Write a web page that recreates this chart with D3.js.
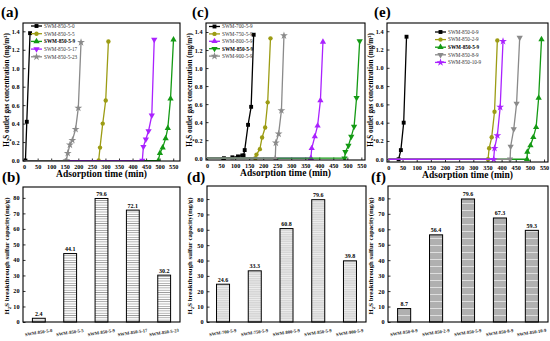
<!DOCTYPE html>
<html>
<head>
<meta charset="utf-8">
<script src="https://cdn.jsdelivr.net/npm/d3@7/dist/d3.min.js"></script>
<style>
  body { margin: 0; background: #fff; }
  svg { display: block; font-family: "Liberation Serif", "Times New Roman", serif; }
</style>
</head>
<body>
<svg id="chart" width="550" height="341"></svg>
<script>
// ---- data: breakthrough curves (time in min, H2S outlet in mg/m3) ----
const timeTicks = [0, 50, 100, 150, 200, 250, 300, 350, 400, 450, 500, 550];
const concTicks = [0, 0.2, 0.4, 0.6, 0.8, 1.0, 1.2, 1.4];
const capTicks = [0, 10, 20, 30, 40, 50, 60, 70, 80];

// (a) different S/O ratio of agent
const a850_5_0  = [[0, 0], [5, 0], [10, 0.42], [22, 1.38]];
const a850_5_5  = [[0, 0], [275, 0], [280, 0.14], [290, 0.40], [301, 0.65], [311, 1.29]];
const a850_5_9  = [[0, 0], [495, 0], [501, 0.08], [511, 0.14], [522, 0.24], [530, 0.35], [540, 0.67], [551, 1.31]];
const a850_5_17 = [[0, 0], [436, 0], [440, 0.15], [449, 0.23], [459, 0.32], [471, 0.49], [480, 1.31]];
const a850_5_23 = [[0, 0], [156, 0], [161, 0.08], [169, 0.17], [178, 0.22], [190, 0.34], [200, 0.57], [210, 1.28]];

// (c) different temperature
const c700_5_9 = [[0, 0], [60, 0], [90, 0.01], [110, 0.02], [125, 0.03], [130, 0.03], [134, 0.09], [146, 0.37], [157, 0.57], [166, 1.37]];
const c750_5_9 = [[0, 0], [172, 0], [176, 0.04], [188, 0.10], [196, 0.23], [207, 0.34], [216, 0.62], [226, 1.33]];
const c800_5_9 = [[0, 0], [370, 0], [373, 0.11], [384, 0.24], [394, 0.36], [404, 0.64], [413, 1.29]];
const c850_5_9 = [[0, 0], [490, 0], [493, 0.07], [504, 0.14], [514, 0.24], [524, 0.35], [533, 0.67], [544, 1.30]];
const c900_5_9 = [[0, 0], [243, 0], [245, 0.17], [255, 0.27], [265, 0.53], [274, 1.36]];

// (e) different loading
const e850_0_9  = [[0, 0], [36, 0], [44, 0.10], [54, 0.40], [64, 1.34]];
const e850_2_9  = [[0, 0], [352, 0], [356, 0.12], [365, 0.24], [375, 0.52], [385, 1.30]];
const e850_5_9  = [[0, 0], [490, 0], [491, 0.08], [502, 0.15], [512, 0.24], [522, 0.35], [531, 0.67], [541, 1.31]];
const e850_8_9  = [[0, 0], [430, 0], [432, 0.14], [443, 0.33], [453, 0.61], [464, 1.33]];
const e850_10_9 = [[0, 0], [372, 0], [375, 0.12], [385, 0.26], [395, 0.57], [405, 1.29]];

// ---- data: breakthrough sulfur capacity (mg/g) ----
const bCats = ["SWM-850-5-0", "SWM-850-5-5", "SWM-850-5-9", "SWM-850-5-17", "SWM-850-5-23"];
const bVals = [2.4, 44.1, 79.6, 72.1, 30.2];
const dCats = ["SWM-700-5-9", "SWM-750-5-9", "SWM-800-5-9", "SWM-850-5-9", "SWM-900-5-9"];
const dVals = [24.6, 33.3, 60.8, 79.6, 39.8];
const fCats = ["SWM-850-0-9", "SWM-850-2-9", "SWM-850-5-9", "SWM-850-8-9", "SWM-850-10-9"];
const fVals = [8.7, 56.4, 79.6, 67.3, 59.3];

const C = {
  black: "#000000",
  olive: "#9c9c14",
  green: "#149a14",
  purple: "#aa22ff",
  gray: "#8a8a8a"
};

const svg = d3.select("#chart");
const defs = svg.append("defs");

function stripes(id, bg, line, gap, lw) {
  const p = defs.append("pattern")
    .attr("id", id)
    .attr("patternUnits", "userSpaceOnUse")
    .attr("width", 6)
    .attr("height", gap);
  p.append("rect").attr("width", 6).attr("height", gap).attr("fill", bg);
  p.append("line")
    .attr("x1", 0).attr("x2", 6)
    .attr("y1", lw / 2).attr("y2", lw / 2)
    .attr("stroke", line).attr("stroke-width", lw);
}
stripes("patB", "#ffffff", "#9a9a9a", 2.3, 0.8);
stripes("patD", "#d6d6d6", "#f4f4f4", 2.2, 0.7);
stripes("patF", "#b0b0b0", "#f2f2f2", 7, 0.8);

function panelLabel(txt, x, y) {
  svg.append("text")
    .attr("x", x).attr("y", y)
    .attr("font-size", 15).attr("font-weight", "bold")
    .text(txt);
}

function yTitle(x, cy, lines, size) {
  const t = svg.append("text")
    .attr("transform", `translate(${x},${cy}) rotate(-90)`)
    .attr("text-anchor", "middle")
    .attr("font-size", size).attr("font-weight", "bold");
  t.append("tspan").text("H");
  t.append("tspan").attr("font-size", size * 0.7).attr("dy", 1.5).text("2");
  t.append("tspan").attr("dy", -1.5).text(lines);
}

function frame(box) {
  svg.append("rect")
    .attr("x", box.x0).attr("y", box.y0)
    .attr("width", box.x1 - box.x0).attr("height", box.y1 - box.y0)
    .attr("fill", "none").attr("stroke", "#000").attr("stroke-width", 1.1);
}

function styleAxis(g) {
  g.select(".domain").remove();
  g.selectAll(".tick line").attr("stroke", "#000").attr("stroke-width", 0.8);
  g.selectAll(".tick text")
    .attr("font-family", "'Liberation Serif', serif")
    .attr("font-weight", "bold")
    .attr("font-size", 6.2)
    .attr("fill", "#000");
}

function linePanel(box, xDom, yDom, series, legend) {
  const x = d3.scaleLinear().domain(xDom).range([box.x0, box.x1]);
  const y = d3.scaleLinear().domain(yDom).range([box.y1, box.y0]);

  const gx = svg.append("g")
    .attr("transform", `translate(0,${box.y1})`)
    .call(d3.axisBottom(x).tickValues(timeTicks).tickSize(-2.5).tickPadding(3.5).tickFormat(d3.format("d")));
  styleAxis(gx);
  const gy = svg.append("g")
    .attr("transform", `translate(${box.x0},0)`)
    .call(d3.axisLeft(y).tickValues(concTicks).tickSize(-2.5).tickPadding(3.5).tickFormat(d3.format(".1f")));
  styleAxis(gy);

  const line = d3.line().x(d => x(d[0])).y(d => y(d[1]));
  const clip = "clip" + Math.round(box.x0);
  defs.append("clipPath").attr("id", clip).append("rect")
    .attr("x", box.x0).attr("y", box.y0 - 4)
    .attr("width", box.x1 - box.x0).attr("height", box.y1 - box.y0 + 4);
  const plot = svg.append("g").attr("clip-path", `url(#${clip})`);

  series.forEach(s => {
    plot.append("path")
      .datum(s.data)
      .attr("d", line)
      .attr("fill", "none")
      .attr("stroke", s.color)
      .attr("stroke-width", 1.3);
    plot.selectAll(null)
      .data(s.data.slice(1))
      .enter().append("path")
      .attr("d", d3.symbol().type(s.shape.type).size(s.shape.size))
      .attr("fill", s.color)
      .attr("transform", d => `translate(${x(d[0])},${y(d[1])}) rotate(${s.shape.rot || 0})`);
  });

  // legend
  series.forEach((s, i) => {
    const ly = legend.y + i * legend.dy;
    svg.append("line")
      .attr("x1", legend.x).attr("x2", legend.x + 11)
      .attr("y1", ly).attr("y2", ly)
      .attr("stroke", s.color).attr("stroke-width", 1.3);
    svg.append("path")
      .attr("transform", `translate(${legend.x + 5.5},${ly}) rotate(${s.shape.rot || 0})`)
      .attr("d", d3.symbol().type(s.shape.type).size(s.shape.size))
      .attr("fill", s.color);
    svg.append("text")
      .attr("x", legend.x + 13).attr("y", ly + 1.8)
      .attr("font-size", 5.2)
      .attr("font-weight", s.bold ? "bold" : "normal")
      .attr("fill", s.bold ? "#000" : "#333")
      .text(s.name);
  });

  frame(box);

  svg.append("text")
    .attr("x", (box.x0 + box.x1) / 2).attr("y", box.y1 + 16)
    .attr("text-anchor", "middle")
    .attr("font-size", 9.5).attr("font-weight", "bold")
    .text("Adsorption time (min)");
}

function barPanel(box, yDom, cats, vals, pat) {
  const x = d3.scaleBand().domain(cats).range([box.x0, box.x1]).paddingInner(0.59).paddingOuter(0.3);
  const y = d3.scaleLinear().domain(yDom).range([box.y1, box.y0]);

  const gy = svg.append("g")
    .attr("transform", `translate(${box.x0},0)`)
    .call(d3.axisLeft(y).tickValues(capTicks).tickSize(-2.5).tickPadding(3.5));
  styleAxis(gy);

  svg.selectAll(null)
    .data(cats)
    .enter().append("rect")
    .attr("x", d => x(d))
    .attr("y", (d, i) => y(vals[i]))
    .attr("width", x.bandwidth())
    .attr("height", (d, i) => y(0) - y(vals[i]))
    .attr("fill", `url(#${pat})`)
    .attr("stroke", "#000")
    .attr("stroke-width", 1);

  svg.selectAll(null)
    .data(cats)
    .enter().append("text")
    .attr("x", d => x(d) + x.bandwidth() / 2)
    .attr("y", (d, i) => y(vals[i]) - 2.5)
    .attr("text-anchor", "middle")
    .attr("font-size", 6).attr("font-weight", "bold")
    .text((d, i) => vals[i].toFixed(1));

  svg.selectAll(null)
    .data(cats)
    .enter().append("text")
    .attr("transform", d => `translate(${x(d) + x.bandwidth() / 2},${box.y1 + 12}) rotate(-9)`)
    .attr("text-anchor", "middle")
    .attr("font-size", 4.6).attr("font-weight", "bold")
    .attr("fill", "#222")
    .text(d => d);

  frame(box);
}

const sq = { type: d3.symbolSquare, size: 15 };
const ci = { type: d3.symbolCircle, size: 15 };
const tu = { type: d3.symbolTriangle, size: 17 };
const td = { type: d3.symbolTriangle, size: 17, rot: 180 };
const st = { type: d3.symbolStar, size: 19 };

// (a)
linePanel({ x0: 23, x1: 180, y0: 23, y1: 161 }, [-4, 575], [-0.005, 1.49], [
  { name: "SWM-850-5-0", data: a850_5_0, color: C.black, shape: sq },
  { name: "SWM-850-5-5", data: a850_5_5, color: C.olive, shape: ci },
  { name: "SWM-850-5-9", data: a850_5_9, color: C.green, shape: tu, bold: true },
  { name: "SWM-850-5-17", data: a850_5_17, color: C.purple, shape: td },
  { name: "SWM-850-5-23", data: a850_5_23, color: C.gray, shape: st }
], { x: 31, y: 26, dy: 7.7 });

// (c)
linePanel({ x0: 206, x1: 365, y0: 23, y1: 160 }, [-4, 563], [-0.02, 1.5], [
  { name: "SWM-700-5-9", data: c700_5_9, color: C.black, shape: sq },
  { name: "SWM-750-5-9", data: c750_5_9, color: C.olive, shape: ci },
  { name: "SWM-800-5-9", data: c800_5_9, color: C.purple, shape: tu },
  { name: "SWM-850-5-9", data: c850_5_9, color: C.green, shape: td, bold: true },
  { name: "SWM-900-5-9", data: c900_5_9, color: C.gray, shape: st }
], { x: 209, y: 26.5, dy: 7.4 });

// (e)
linePanel({ x0: 387, x1: 548, y0: 23, y1: 162 }, [-5, 564], [-0.03, 1.49], [
  { name: "SWM-850-0-9", data: e850_0_9, color: C.black, shape: sq },
  { name: "SWM-850-2-9", data: e850_2_9, color: C.olive, shape: ci },
  { name: "SWM-850-5-9", data: e850_5_9, color: C.green, shape: tu, bold: true },
  { name: "SWM-850-8-9", data: e850_8_9, color: C.gray, shape: td },
  { name: "SWM-850-10-9", data: e850_10_9, color: C.purple, shape: st }
], { x: 435, y: 32, dy: 7.6 });

barPanel({ x0: 23, x1: 180, y0: 187, y1: 322 }, [0, 87], bCats, bVals, "patB");
barPanel({ x0: 207, x1: 366, y0: 186, y1: 322 }, [0, 88.5], dCats, dVals, "patD");
barPanel({ x0: 388, x1: 548, y0: 186, y1: 322 }, [0, 88], fCats, fVals, "patF");

// axis titles
yTitle(9, 90, "S outlet gas concentration (mg/m³)", 7.2);
yTitle(192, 90, "S outlet gas concentration (mg/m³)", 7.2);
yTitle(373, 90, "S outlet gas concentration (mg/m³)", 7.2);
yTitle(9, 256, "S breakthrough sulfur capacity(mg/g)", 6.8);
yTitle(192, 256, "S breakthrough sulfur capacity(mg/g)", 6.8);
yTitle(373, 256, "S breakthrough sulfur capacity(mg/g)", 6.8);

panelLabel("(a)", 1, 17);
panelLabel("(c)", 192, 17);
panelLabel("(e)", 374, 17);
panelLabel("(b)", 2, 182);
panelLabel("(d)", 187, 182);
panelLabel("(f)", 371, 182);
</script>
</body>
</html>
